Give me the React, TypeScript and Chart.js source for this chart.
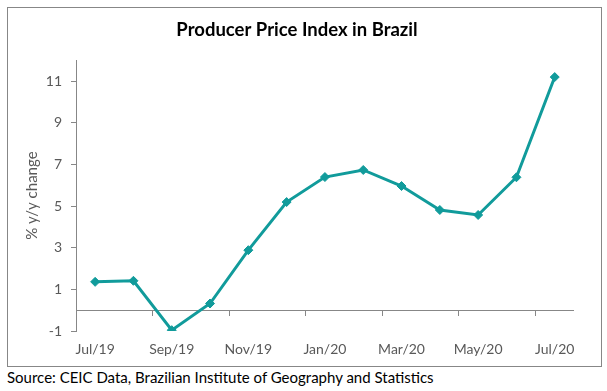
import React, { useEffect, useRef } from "react";
import { Chart, registerables } from "chart.js";

Chart.register(...registerables);

const categories = ["Jul/19", "Aug/19", "Sep/19", "Oct/19", "Nov/19", "Dec/19", "Jan/20", "Feb/20", "Mar/20", "Apr/20", "May/20", "Jun/20", "Jul/20"];
const ppiValues = [1.36, 1.41, -0.96, 0.32, 2.88, 5.19, 6.39, 6.73, 5.96, 4.81, 4.57, 6.38, 11.19];
const yTickValues = [-1, 1, 3, 5, 7, 9, 11];
const yMin = -1;
const yMax = 12;

const chartTitle = "Producer Price Index in Brazil";
const yTitle = "% y/y change";
const sourceText = "Source: CEIC Data, Brazilian Institute of Geography and Statistics";

const FONT = "Lato, 'Open Sans', sans-serif";
const TEAL = "#119b9b";
const AXIS = "#878787";
const LABEL = "#595959";

export default function App() {
  const ref = useRef<HTMLCanvasElement | null>(null);

  useEffect(() => {
    if (!ref.current) return;
    const chart = new Chart(ref.current, {
      type: "line",
      data: {
        labels: categories,
        datasets: [
          {
            data: ppiValues,
            borderColor: TEAL,
            backgroundColor: TEAL,
            borderWidth: 3,
            pointStyle: "rectRot",
            pointRadius: 4.5,
            pointBorderWidth: 1,
            pointBackgroundColor: TEAL,
            pointBorderColor: TEAL,
            tension: 0,
          },
        ],
      },
      options: {
        animation: false,
        responsive: false,
        maintainAspectRatio: false,
        layout: { padding: { left: 0, right: 15, top: 0, bottom: 35 } },
        plugins: {
          legend: { display: false },
          tooltip: { enabled: false },
          title: {
            display: true,
            text: chartTitle,
            color: "#000000",
            font: { family: FONT, size: 18.5, weight: "bold" },
            padding: { top: 11, bottom: 19 },
          },
        },
        scales: {
          x: {
            type: "category",
            offset: true,
            position: { y: 0 } as any,
            border: { display: true, color: AXIS, width: 1 },
            grid: {
              offset: true,
              drawOnChartArea: false,
              drawTicks: true,
              tickLength: 5,
              color: (ctx: any) => (ctx.index % 2 === 0 ? AXIS : "rgba(0,0,0,0)"),
            },
            ticks: {
              autoSkip: false,
              maxRotation: 0,
              minRotation: 0,
              padding: 26,
              color: LABEL,
              font: { family: FONT, size: 14 },
              callback: (_v: any, i: number) => (i % 2 === 0 ? categories[i] : ""),
            },
          },
          y: {
            type: "linear",
            min: yMin,
            max: yMax,
            afterBuildTicks: (scale: any) => {
              scale.ticks = yTickValues.map((v) => ({ value: v }));
            },
            afterFit: (scale: any) => {
              scale.width = 68;
            },
            border: { display: true, color: AXIS, width: 1 },
            grid: {
              drawOnChartArea: false,
              drawTicks: true,
              tickLength: 5,
              color: AXIS,
            },
            ticks: {
              padding: 9,
              color: LABEL,
              font: { family: FONT, size: 14 },
            },
            title: {
              display: true,
              text: yTitle,
              color: LABEL,
              font: { family: FONT, size: 15 },
              padding: { top: 15, bottom: 0 },
            },
          },
        },
      },
    });
    return () => chart.destroy();
  }, []);

  return (
    <div style={{ position: "absolute", left: 0, top: 0, width: 607, height: 391, background: "#fff" }}>
      <div
        style={{
          position: "absolute",
          left: 7,
          top: 7,
          width: 595,
          height: 360,
          border: `1px solid ${AXIS}`,
          boxSizing: "border-box",
        }}
      >
        <canvas ref={ref} width={593} height={358} style={{ display: "block", width: 593, height: 358 }} />
      </div>
      <div
        style={{
          position: "absolute",
          left: 7,
          top: 368,
          fontFamily: FONT,
          fontSize: 15,
          color: "#000",
          whiteSpace: "nowrap",
          lineHeight: "19px",
        }}
      >
        {sourceText}
      </div>
    </div>
  );
}
